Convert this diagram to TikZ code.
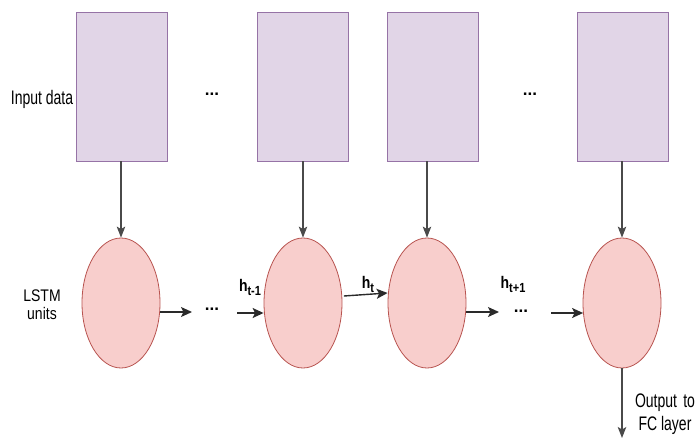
\documentclass[tikz,border=0pt]{standalone}
\usepackage{fontspec}
\setmainfont{Liberation Sans}
\usetikzlibrary{arrows.meta,shapes.geometric}
\definecolor{inFill}{HTML}{E1D5E7}
\definecolor{inDraw}{HTML}{9673A6}
\definecolor{cellFill}{HTML}{F8CECC}
\definecolor{cellDraw}{HTML}{B85450}
\definecolor{wire}{HTML}{2A2A2A}
% tall, narrow lettering
\newcommand{\tall}[2]{\scalebox{1}[#1]{#2}}
\newcommand{\hlab}[1]{\tall{1.2}{\textbf{h}\raisebox{-0.45ex}{\fontsize{11}{11}\selectfont\bfseries #1}}}
\tikzset{
  inbox/.style={draw=inDraw, fill=inFill, line width=0.8pt, minimum width=91pt, minimum height=149pt, inner sep=0pt},
  cell/.style={ellipse, draw=cellDraw, fill=cellFill, line width=0.8pt, minimum width=78pt, minimum height=130pt, inner sep=0pt},
  lbl/.style={font=\fontsize{14}{15}\selectfont, align=center, inner sep=0pt},
  dots/.style={font=\fontsize{17}{17}\selectfont\bfseries, inner sep=0pt},
  hl/.style={font=\fontsize{14}{14}\selectfont, inner sep=0pt},
  flow/.style={draw=wire, line width=1.4pt, -{Stealth[length=11pt,width=10pt,inset=2.5pt]}},
  feed/.style={draw=wire!85, line width=1.1pt, -{Stealth[length=11pt,width=8.5pt,inset=2.5pt]}}
}
\begin{document}
\begin{tikzpicture}[x=1pt,y=-1pt]
\useasboundingbox (0,0) rectangle (697,441);

% input blocks
\node[inbox] (r1) at (121.5,86.5) {};
\node[inbox] (r2) at (302.5,86.5) {};
\node[inbox] (r3) at (432.5,86.5) {};
\node[inbox] (r4) at (622.5,86.5) {};

% LSTM cells
\node[cell] (e1) at (121,303) {};
\node[cell] (e2) at (303,303) {};
\node[cell] (e3) at (427,303) {};
\node[cell] (e4) at (622,303) {};

% row labels
\node[lbl] (tin) at (42,99) {\tall{1.4}{Input data}};
\node[lbl] (tlstm) at (42,305) {\tall{1.2}{LSTM}\\[3pt]\tall{1.2}{units}};

% ellipsis marks
\node[dots] (dt1) at (212,94) {...};
\node[dots] (dt2) at (530,94) {...};
\node[dots] (db1) at (212,309) {...};
\node[dots] (db2) at (521,311) {...};

% hidden state labels
\node[hl] (h1) at (250,287) {\hlab{t-1}};
\node[hl] (h2) at (368,284) {\hlab{t}};
\node[hl] (h3) at (513,284) {\hlab{t+1}};

% inputs into cells
\draw[feed] (e1.north |- r1.south) -- (e1.north);
\draw[feed] (e2.north |- r2.south) -- (e2.north);
\draw[feed] (e3.north |- r3.south) -- (e3.north);
\draw[feed] (e4.north |- r4.south) -- (e4.north);

% recurrent connections
\coordinate (a1) at (192,312);
\coordinate (b1) at (237,313);
\coordinate (a2) at (499,312);
\coordinate (b2) at (551,313);
\draw[flow] (e1.east |- a1) ++(-0.5,0) -- (a1);
\draw[flow] (b1) -- (e2.west |- b1);
\draw[flow] ([xshift=1.5pt,yshift=7pt]e2.east) -- ([yshift=10pt]e3.west);
\draw[flow] (e3.east |- a2) ++(-0.5,0) -- (a2);
\draw[flow] (b2) -- ([xshift=0.5pt]e4.west |- b2);

% output
\coordinate (o) at (622,438);
\draw[feed] (e4.south) -- (o);
\node[lbl] (tout) at (665,414) {\tall{1.4}{Output\, to}\\[4pt]\tall{1.4}{FC layer}};
\end{tikzpicture}
\end{document}
